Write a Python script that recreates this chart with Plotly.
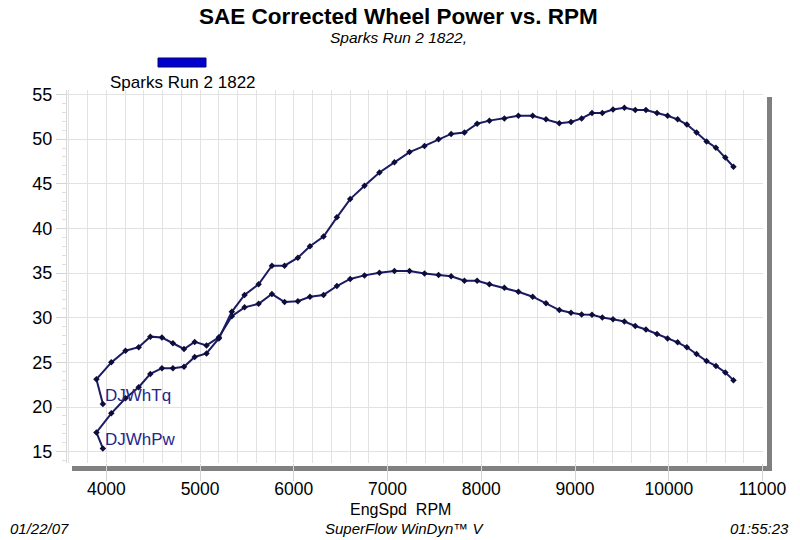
import plotly.graph_objects as go

# ---- data ----
rpm = [3963, 3894, 4053, 4204, 4345, 4469, 4593, 4710, 4828, 4942,
       5068, 5200, 5338, 5474, 5624, 5766, 5901, 6043, 6172, 6317,
       6459, 6601, 6754, 6913, 7073, 7234, 7394, 7544, 7678, 7820,
       7955, 8086, 8246, 8395, 8548, 8690, 8832, 8957, 9070, 9181,
       9291, 9405, 9526, 9642, 9756, 9874, 9987, 10094, 10193, 10296,
       10403, 10503, 10603, 10690]

torque = [20.33, 23.11, 25.0, 26.3, 26.7, 27.88, 27.78, 27.14, 26.5, 27.29,
          26.9, 27.8, 30.17, 31.16, 31.56, 32.65, 31.75, 31.85, 32.35, 32.55,
          33.55, 34.34, 34.74, 35.04, 35.23, 35.23, 34.94, 34.79, 34.64, 34.14,
          34.14, 33.74, 33.35, 32.9, 32.35, 31.61, 30.86, 30.56, 30.37, 30.32,
          30.02, 29.82, 29.57, 29.07, 28.68, 28.18, 27.68, 27.24, 26.69, 25.95,
          25.15, 24.6, 23.86, 23.01]

power = [15.36, 17.15, 19.29, 20.98, 22.22, 23.71, 24.35, 24.35, 24.5, 25.6,
         26.0, 27.68, 30.66, 32.55, 33.74, 35.83, 35.83, 36.72, 38.01, 39.1,
         41.24, 43.28, 44.77, 46.26, 47.4, 48.55, 49.24, 49.99, 50.58, 50.73,
         51.72, 52.07, 52.32, 52.61, 52.61, 52.22, 51.77, 51.92, 52.32, 52.92,
         52.92, 53.31, 53.51, 53.26, 53.26, 52.92, 52.61, 52.22, 51.63, 50.73,
         49.74, 49.04, 47.95, 46.9]

series_names = ["DJWhTq", "DJWhPw"]
title_text = "SAE Corrected Wheel Power vs. RPM"
subtitle_text = "Sparks Run 2 1822,"
legend_text = "Sparks Run 2 1822"
x_title = "EngSpd  RPM"
footer_left = "01/22/07"
footer_mid = "SuperFlow WinDyn\u2122 V"
footer_right = "01:55:23"

# ---- layout geometry (pixels) ----
W, H = 800, 540
L, R, T, B = 67, 763, 90, 463


def px(x):
    return (x - L) / (R - L)


def py(y):
    return (B - y) / (B - T)


FONT = "Liberation Sans, Arial, sans-serif"
LINE = "#1b1b63"
MARK = "#0d0d3a"
GRID = "#e2e2e2"
TICKC = "#d4d4d4"

fig = go.Figure()
for name, vals in zip(series_names, [torque, power]):
    fig.add_trace(go.Scatter(
        x=rpm, y=vals, mode="lines+markers", name=name,
        line=dict(color=LINE, width=2),
        marker=dict(symbol="diamond", size=5, color=MARK),
        showlegend=False,
    ))
    fig.add_annotation(
        x=rpm[0], y=vals[0], text=name, showarrow=False,
        xanchor="left", yanchor="bottom", yshift=-3,
        font=dict(family=FONT, size=17, color="#26268a"),
    )

shapes = [
    # drop shadow, bottom and right
    dict(type="rect", xref="paper", yref="paper",
         x0=px(72), x1=px(772), y0=py(466), y1=py(471),
         fillcolor="#808080", line=dict(width=0), layer="below"),
    dict(type="rect", xref="paper", yref="paper",
         x0=px(767), x1=px(772), y0=py(97), y1=py(471),
         fillcolor="#808080", line=dict(width=0), layer="below"),
    # legend swatch
    dict(type="rect", xref="paper", yref="paper",
         x0=px(158), x1=px(206), y0=py(67), y1=py(58),
         fillcolor="#0000cc", line=dict(color="#00007a", width=1)),
]

ann = [
    dict(x=px(398), y=py(16), text=f"<b>{title_text}</b>",
         font=dict(family=FONT, size=22.5, color="black")),
    dict(x=px(398), y=py(38), text=f"<i>{subtitle_text}</i>",
         font=dict(family=FONT, size=15.5, color="black")),
    dict(x=px(183), y=py(82), text=legend_text,
         font=dict(family=FONT, size=17, color="black")),
    dict(x=px(400), y=py(509), text=x_title,
         font=dict(family=FONT, size=16, color="black")),
    dict(x=px(8), y=py(528), text=f"<i>{footer_left}</i>", xanchor="left",
         font=dict(family=FONT, size=15, color="black")),
    dict(x=px(404), y=py(528), text=f"<i>{footer_mid}</i>",
         font=dict(family=FONT, size=15, color="black")),
    dict(x=px(791), y=py(528), text=f"<i>{footer_right}</i>", xanchor="right",
         font=dict(family=FONT, size=15, color="black")),
]
for a in ann:
    a.setdefault("xanchor", "center")
    fig.add_annotation(xref="paper", yref="paper", yanchor="middle",
                       showarrow=False, **a)

fig.update_layout(
    width=W, height=H,
    margin=dict(l=L, r=W - R, t=T, b=H - B, pad=0),
    paper_bgcolor="white", plot_bgcolor="white",
    shapes=shapes,
    font=dict(family=FONT, color="black"),
)
fig.update_xaxes(
    range=[3580, 11005], tick0=0, dtick=1000, tickformat="d",
    showgrid=True, gridcolor=GRID, gridwidth=1,
    minor=dict(dtick=200, showgrid=True, gridcolor=GRID, ticks=""),
    ticks="outside", ticklen=17, tickcolor=TICKC, tickwidth=1,
    ticklabelstandoff=-7,
    showline=False, zeroline=False,
    tickfont=dict(family=FONT, size=17.5, color="black"),
)
fig.update_yaxes(
    range=[13.73, 55.5], tick0=0, dtick=5, tickformat="d",
    showgrid=True, gridcolor=GRID, gridwidth=1,
    minor=dict(dtick=1, ticks="outside", ticklen=4, tickcolor="#e0e0e0", showgrid=False),
    ticks="outside", ticklen=10, tickcolor=TICKC, tickwidth=1,
    showline=True, linecolor="#d8d8d8", linewidth=1, zeroline=False,
    tickfont=dict(family=FONT, size=18, color="black"),
)

fig.write_html(
    "out.html",
    config={"displayModeBar": False},
    post_script="document.body.style.margin='0px';document.body.style.overflow='hidden';",
)
